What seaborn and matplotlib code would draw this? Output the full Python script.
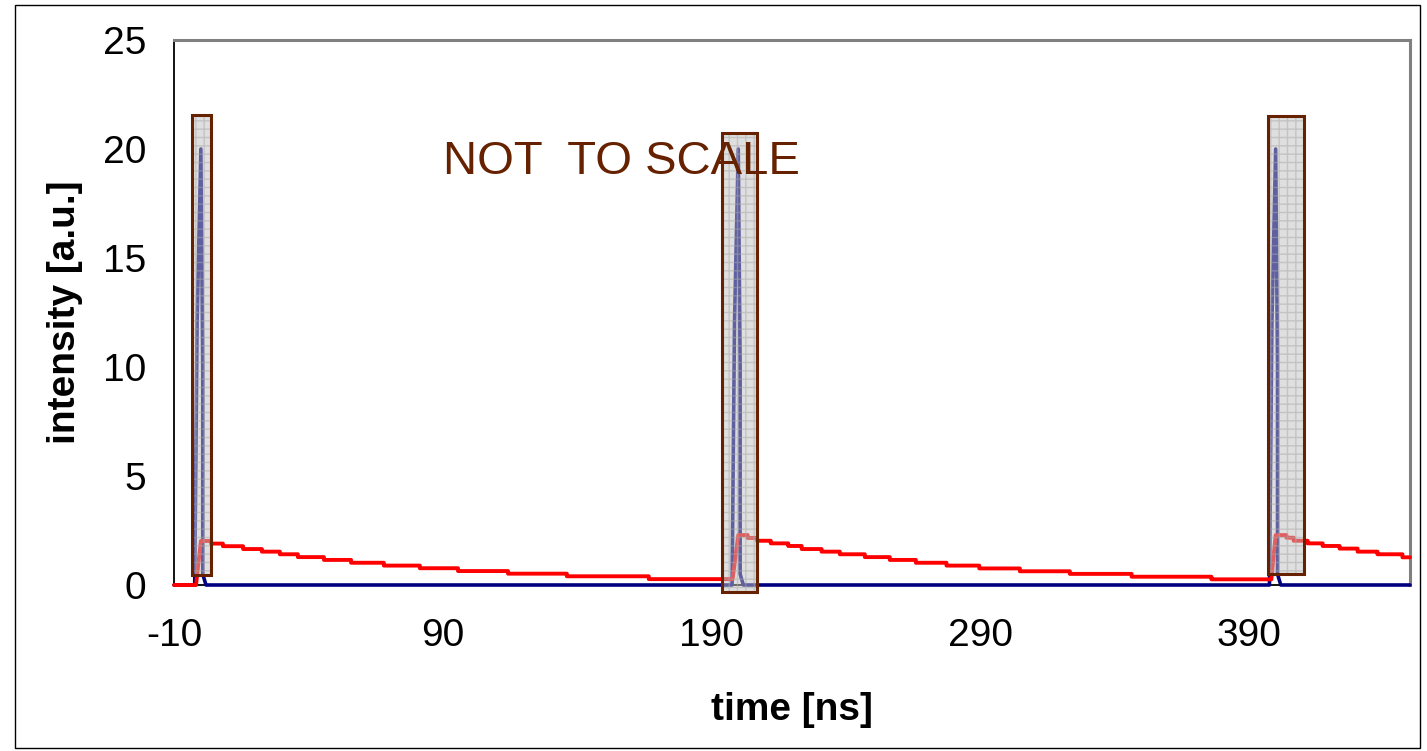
import matplotlib
matplotlib.use("Agg")
import matplotlib.pyplot as plt
from matplotlib.patches import Rectangle
import seaborn as sns
import pandas as pd

# navy pulse trace (time in ns, intensity in a.u.)
pulse_t = [-10, -2.3, -1.4, 0, 0.7, 0.7, 1.9,
           197.7, 198.6, 200, 200.7, 200.7, 201.9,
           397.7, 398.6, 400, 400.7, 400.7, 401.9, 450]
pulse_y = [0, 0, 12, 20, 10, 0.5, 0,
           0, 12, 20, 10, 0.5, 0,
           0, 12, 20, 10, 0.5, 0, 0]

# red decay trace as flat steps: start, end, level
red_start = [-10, 0, 3.8, 8.2, 15.7, 22.7, 29.4, 36.1, 45.8, 55.9, 68.1, 81.5, 95.7, 114.3, 136.2, 166.7,
             200, 203.5, 207, 212.1, 218.6, 223.6, 231.0, 237.8, 247.1, 256.4, 266.1, 277.5, 289.7, 304.8, 323.4, 346.4, 376.1,
             400, 404, 406.7, 411.9, 417.5, 423.8, 430.5, 437.9, 447.2]
red_end = [-1.8, 3.8, 8.2, 15.7, 22.7, 29.4, 36.1, 45.8, 55.9, 68.1, 81.5, 95.7, 114.3, 136.2, 166.7, 197.9,
           203.5, 207, 212.1, 218.6, 223.6, 231.0, 237.8, 247.1, 256.4, 266.1, 277.5, 289.7, 304.8, 323.4, 346.4, 376.1, 398.4,
           404, 406.7, 411.9, 417.5, 423.8, 430.5, 437.9, 447.2, 450]
red_level = [0, 2.02, 1.90, 1.78, 1.65, 1.53, 1.41, 1.28, 1.15, 1.02, 0.89, 0.77, 0.64, 0.52, 0.40, 0.27,
             2.29, 2.16, 2.03, 1.91, 1.79, 1.65, 1.53, 1.41, 1.28, 1.15, 1.02, 0.89, 0.76, 0.63, 0.51, 0.38, 0.26,
             2.29, 2.17, 2.03, 1.91, 1.79, 1.67, 1.53, 1.41, 1.27]

# gated windows: left, right, bottom, top
box_left = [-3.3, 193.9, 397.1]
box_right = [3.8, 206.9, 410.5]
box_bottom = [0.46, -0.32, 0.5]
box_top = [21.56, 20.73, 21.5]

x_ticks = [-10, 90, 190, 290, 390]
y_ticks = [0, 5, 10, 15, 20, 25]

sns.set_style("white")
plt.rcParams['font.family'] = ['Liberation Sans', 'DejaVu Sans']
plt.rcParams['axes.unicode_minus'] = False
plt.rcParams['hatch.linewidth'] = 1.0

fig = plt.figure(figsize=(14.27, 7.51), dpi=100)
ax = fig.add_axes([174 / 1427, 166 / 751, (1410 - 174) / 1427, (585 - 40) / 751])

pulse_df = pd.DataFrame({"time": pulse_t, "intensity": pulse_y})
sns.lineplot(data=pulse_df, x="time", y="intensity", sort=False, estimator=None,
             color="#000080", lw=2.6, ax=ax, zorder=3, clip_on=False)

red_x, red_v = [], []
for s, e, l in zip(red_start, red_end, red_level):
    red_x += [s, e]
    red_v += [l, l]
red_df = pd.DataFrame({"time": red_x, "intensity": red_v})
sns.lineplot(data=red_df, x="time", y="intensity", sort=False, estimator=None,
             color="#ff0000", lw=2.8, ax=ax, zorder=4, clip_on=False)

brown = "#662200"
for l, r, b, t in zip(box_left, box_right, box_bottom, box_top):
    ax.add_patch(Rectangle((l, b), r - l, t - b, facecolor="#c0c0c0", edgecolor="#a8a8a8",
                           hatch="++", lw=0, alpha=0.5, zorder=5, clip_on=False))
    ax.add_patch(Rectangle((l, b), r - l, t - b, fill=False, edgecolor=brown,
                           lw=2.2, zorder=6, clip_on=False))

ax.text(90, 19.4, "NOT  TO SCALE", color=brown, fontsize=34, va="center", ha="left", zorder=7)

ax.set_xlim(-10, 450)
ax.set_ylim(0, 25)
ax.set_xticks(x_ticks)
ax.set_yticks(y_ticks)
ax.tick_params(axis="both", labelsize=28, direction="out", length=7, width=1.2,
               colors="black", labelcolor="black")
ax.tick_params(axis="x", pad=17)
ax.tick_params(axis="y", pad=13)
ax.set_xlabel("time [ns]", fontsize=28, fontweight="bold", labelpad=27, color="black")
ax.set_ylabel("intensity [a.u.]", fontsize=28, fontweight="bold", labelpad=14, color="black")

for side in ["top", "right"]:
    ax.spines[side].set_color("#808080")
    ax.spines[side].set_linewidth(2.2)
for side in ["left", "bottom"]:
    ax.spines[side].set_color("black")
    ax.spines[side].set_linewidth(1.3)

fig.add_artist(Rectangle((15 / 1427, 3 / 751), 1405 / 1427, 743 / 751, transform=fig.transFigure,
                         fill=False, edgecolor="black", lw=1.0))

fig.savefig("out.png", dpi=100)
